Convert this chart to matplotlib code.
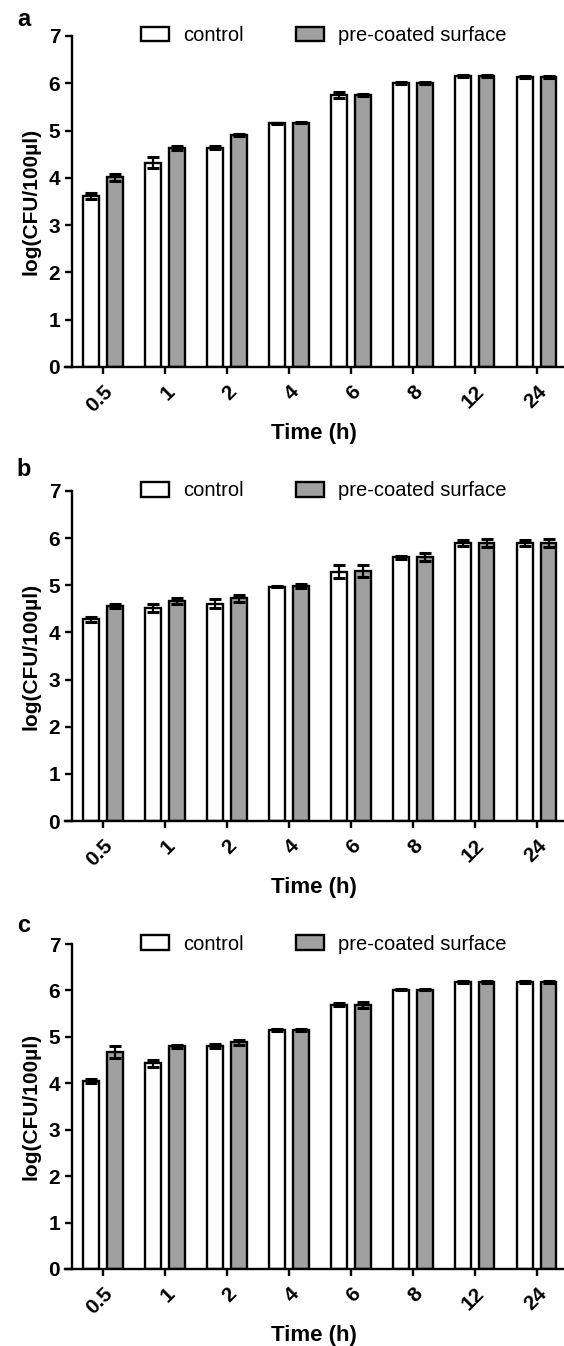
import matplotlib
matplotlib.use("Agg")
import matplotlib.pyplot as plt
import numpy as np

plt.rcParams['font.family'] = ['Liberation Sans', 'DejaVu Sans']

times = ["0.5", "1", "2", "4", "6", "8", "12", "24"]
series_names = ["control", "pre-coated surface"]

a_control = [3.61, 4.32, 4.64, 5.15, 5.75, 6.01, 6.15, 6.14]
a_control_err = [0.06, 0.12, 0.03, 0.02, 0.06, 0.02, 0.02, 0.02]
a_coated = [4.01, 4.63, 4.90, 5.17, 5.76, 6.01, 6.15, 6.14]
a_coated_err = [0.08, 0.05, 0.02, 0.02, 0.02, 0.02, 0.02, 0.02]

b_control = [4.28, 4.52, 4.61, 4.97, 5.29, 5.59, 5.90, 5.90]
b_control_err = [0.05, 0.09, 0.10, 0.01, 0.13, 0.03, 0.07, 0.07]
b_coated = [4.56, 4.66, 4.72, 4.98, 5.30, 5.60, 5.90, 5.90]
b_coated_err = [0.05, 0.06, 0.07, 0.04, 0.12, 0.09, 0.09, 0.08]

c_control = [4.05, 4.43, 4.80, 5.14, 5.69, 6.02, 6.19, 6.19]
c_control_err = [0.04, 0.08, 0.05, 0.02, 0.03, 0.02, 0.02, 0.02]
c_coated = [4.68, 4.80, 4.88, 5.14, 5.69, 6.02, 6.19, 6.19]
c_coated_err = [0.13, 0.03, 0.05, 0.02, 0.06, 0.02, 0.02, 0.02]

panels = [
    ("a", a_control, a_control_err, a_coated, a_coated_err),
    ("b", b_control, b_control_err, b_coated, b_coated_err),
    ("c", c_control, c_control_err, c_coated, c_coated_err),
]

W, H = 564, 1346
fig = plt.figure(figsize=(W / 100, H / 100), dpi=100)

# (y pixel of 0, y pixel of 7, panel-letter y pixel)
layout = [(367, 36, 20), (821, 491, 469), (1269, 944, 925)]
left_px, right_px = 65, 563
GRAY = "#a0a0a0"
bw = 0.25
off = 0.19

for (letter, ctl, ctl_e, coat, coat_e), (y0, y7, ly) in zip(panels, layout):
    ax = fig.add_axes([left_px / W, 1 - y0 / H, (right_px - left_px) / W, (y0 - y7) / H])
    x = np.arange(len(times))
    ax.bar(x - off, ctl, bw, color="white", edgecolor="black", linewidth=1.7,
           label=series_names[0], zorder=2)
    ax.bar(x + off, coat, bw, color=GRAY, edgecolor="black", linewidth=1.7,
           label=series_names[1], zorder=2)
    ax.errorbar(x - off, ctl, yerr=ctl_e, fmt="none", ecolor="black",
                elinewidth=1.6, capsize=4.5, capthick=2.2, zorder=3)
    ax.errorbar(x + off, coat, yerr=coat_e, fmt="none", ecolor="black",
                elinewidth=1.6, capsize=4.5, capthick=2.2, zorder=3)
    ax.set_xlim(-0.613, 7.42)
    ax.set_ylim(0, 7)
    ax.spines["left"].set_position(("data", -0.5))
    ax.spines["top"].set_visible(False)
    ax.spines["right"].set_visible(False)
    for s in ("left", "bottom"):
        ax.spines[s].set_linewidth(1.7)
    ax.set_yticks(range(0, 8))
    ax.set_xticks(x)
    ax.set_xticklabels(times, rotation=45, ha="right", rotation_mode="anchor")
    ax.tick_params(axis="both", direction="out", length=5, width=1.7,
                   labelsize=15)
    ax.tick_params(axis="x", pad=6)
    for lab in ax.get_xticklabels() + ax.get_yticklabels():
        lab.set_fontweight("bold")
    ax.set_xlabel("Time (h)", fontsize=16, fontweight="bold", labelpad=5)
    ax.set_ylabel("log(CFU/100µl)", fontsize=15, fontweight="bold", labelpad=6)
    ax.legend(loc="center", bbox_to_anchor=(0.52, 1.0), ncol=2,
              frameon=False, fontsize=14.5, handlelength=1.4,
              handleheight=0.7, handletextpad=0.7, columnspacing=2.6)
    fig.text(24 / W, 1 - ly / H, letter, fontsize=17, fontweight="bold",
             ha="center", va="center")

fig.savefig("out.png", dpi=100)
